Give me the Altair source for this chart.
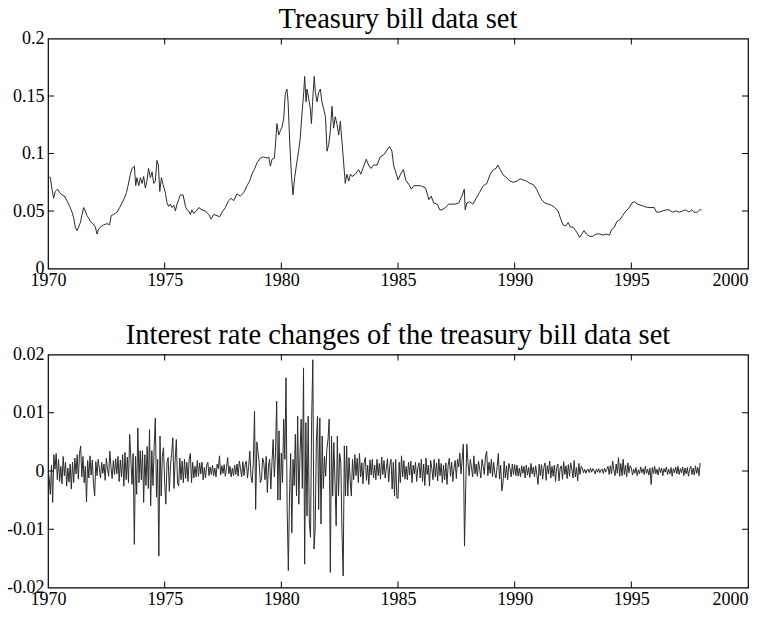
import altair as alt
import pandas as pd

# ---------------- data ----------------
# Treasury bill rate (top panel)
tb_year = [
    1970.00, 1970.10, 1970.17, 1970.24, 1970.31, 1970.41, 1970.50, 1970.60, 1970.70, 1970.81,
    1970.93, 1971.03, 1971.10, 1971.17, 1971.24, 1971.31, 1971.39, 1971.46, 1971.53, 1971.60,
    1971.67, 1971.74, 1971.81, 1971.93, 1972.03, 1972.10, 1972.17, 1972.24, 1972.39, 1972.53,
    1972.64, 1972.71, 1972.81, 1972.96, 1973.07, 1973.17, 1973.27, 1973.36, 1973.43, 1973.53,
    1973.60, 1973.70, 1973.76, 1973.81, 1973.89, 1973.96, 1974.03, 1974.10, 1974.17, 1974.24,
    1974.31, 1974.39, 1974.46, 1974.53, 1974.60, 1974.67, 1974.73, 1974.79, 1974.86, 1974.93,
    1975.03, 1975.10, 1975.17, 1975.24, 1975.31, 1975.39, 1975.46, 1975.53, 1975.60, 1975.67,
    1975.79, 1975.89, 1975.96, 1976.03, 1976.10, 1976.17, 1976.24, 1976.36, 1976.46, 1976.60,
    1976.74, 1976.89, 1976.99, 1977.10, 1977.24, 1977.36, 1977.46, 1977.60, 1977.74, 1977.84,
    1977.96, 1978.10, 1978.24, 1978.39, 1978.53, 1978.64, 1978.74, 1978.84, 1978.96, 1979.10,
    1979.24, 1979.39, 1979.46, 1979.53, 1979.60, 1979.70, 1979.74, 1979.81, 1979.89, 1979.96,
    1980.03, 1980.10, 1980.17, 1980.24, 1980.29, 1980.36, 1980.43, 1980.50, 1980.57, 1980.67,
    1980.74, 1980.81, 1980.89, 1980.96, 1981.00, 1981.06, 1981.10, 1981.17, 1981.24, 1981.29,
    1981.34, 1981.41, 1981.46, 1981.53, 1981.60, 1981.67, 1981.74, 1981.81, 1981.89, 1981.96,
    1982.03, 1982.10, 1982.17, 1982.24, 1982.31, 1982.39, 1982.46, 1982.53, 1982.60, 1982.74,
    1982.81, 1982.89, 1982.96, 1983.03, 1983.17, 1983.31, 1983.41, 1983.53, 1983.64, 1983.74,
    1983.84, 1983.96, 1984.10, 1984.24, 1984.39, 1984.53, 1984.64, 1984.74, 1984.81, 1984.93,
    1985.00, 1985.11, 1985.23, 1985.33, 1985.47, 1985.57, 1985.68, 1985.82, 1985.97, 1986.18,
    1986.32, 1986.42, 1986.53, 1986.68, 1986.79, 1986.89, 1987.03, 1987.17, 1987.32, 1987.46,
    1987.60, 1987.74, 1987.84, 1987.88, 1987.95, 1988.07, 1988.21, 1988.35, 1988.49, 1988.66,
    1988.81, 1988.95, 1989.09, 1989.20, 1989.28, 1989.38, 1989.52, 1989.66, 1989.80, 1989.94,
    1990.09, 1990.23, 1990.37, 1990.51, 1990.65, 1990.80, 1990.94, 1991.05, 1991.15, 1991.29,
    1991.43, 1991.58, 1991.72, 1991.86, 1991.96, 1992.07, 1992.19, 1992.29, 1992.39, 1992.50,
    1992.61, 1992.71, 1992.78, 1992.88, 1992.97, 1993.07, 1993.21, 1993.35, 1993.49, 1993.64,
    1993.78, 1993.92, 1994.06, 1994.16, 1994.28, 1994.38, 1994.49, 1994.63, 1994.77, 1994.91,
    1995.03, 1995.13, 1995.27, 1995.41, 1995.55, 1995.70, 1995.84, 1995.98, 1996.08, 1996.19,
    1996.34, 1996.48, 1996.62, 1996.76, 1996.90, 1997.05, 1997.19, 1997.33, 1997.47, 1997.59,
    1997.68, 1997.83, 1997.93, 1998.01,
]
tb_rate = [
    0.080, 0.079, 0.069, 0.061, 0.067, 0.069, 0.066, 0.064, 0.063, 0.059,
    0.054, 0.049, 0.044, 0.036, 0.033, 0.036, 0.040, 0.047, 0.053, 0.050,
    0.046, 0.044, 0.041, 0.039, 0.036, 0.030, 0.034, 0.036, 0.038, 0.039,
    0.038, 0.046, 0.047, 0.049, 0.053, 0.057, 0.061, 0.066, 0.072, 0.082,
    0.087, 0.089, 0.072, 0.079, 0.072, 0.079, 0.074, 0.080, 0.070, 0.076,
    0.087, 0.079, 0.084, 0.074, 0.076, 0.094, 0.090, 0.067, 0.079, 0.073,
    0.066, 0.057, 0.054, 0.056, 0.053, 0.055, 0.050, 0.056, 0.060, 0.064,
    0.064, 0.054, 0.051, 0.050, 0.047, 0.051, 0.048, 0.050, 0.053, 0.051,
    0.050, 0.047, 0.043, 0.047, 0.046, 0.045, 0.049, 0.053, 0.059, 0.061,
    0.059, 0.065, 0.063, 0.066, 0.072, 0.076, 0.082, 0.086, 0.092, 0.096,
    0.097, 0.096, 0.097, 0.089, 0.095, 0.096, 0.105, 0.126, 0.116, 0.120,
    0.123, 0.130, 0.152, 0.156, 0.145, 0.110, 0.082, 0.064, 0.079, 0.093,
    0.102, 0.113, 0.136, 0.153, 0.167, 0.145, 0.156, 0.148, 0.139, 0.126,
    0.145, 0.167, 0.153, 0.145, 0.153, 0.156, 0.145, 0.139, 0.132, 0.102,
    0.108, 0.119, 0.141, 0.122, 0.132, 0.125, 0.116, 0.128, 0.110, 0.074,
    0.082, 0.076, 0.082, 0.080, 0.082, 0.086, 0.082, 0.089, 0.095, 0.090,
    0.087, 0.090, 0.090, 0.097, 0.099, 0.103, 0.106, 0.102, 0.090, 0.082,
    0.077, 0.082, 0.086, 0.077, 0.073, 0.069, 0.072, 0.072, 0.072, 0.070,
    0.060, 0.063, 0.057, 0.056, 0.051, 0.051, 0.053, 0.056, 0.056, 0.056,
    0.057, 0.063, 0.069, 0.051, 0.057, 0.058, 0.056, 0.061, 0.066, 0.072,
    0.074, 0.082, 0.086, 0.087, 0.090, 0.086, 0.081, 0.079, 0.076, 0.075,
    0.076, 0.078, 0.077, 0.076, 0.074, 0.073, 0.069, 0.064, 0.060, 0.057,
    0.056, 0.055, 0.053, 0.050, 0.044, 0.038, 0.037, 0.040, 0.036, 0.036,
    0.033, 0.030, 0.027, 0.030, 0.033, 0.030, 0.028, 0.028, 0.030, 0.030,
    0.029, 0.030, 0.029, 0.034, 0.036, 0.041, 0.042, 0.046, 0.050, 0.053,
    0.057, 0.058, 0.056, 0.055, 0.054, 0.053, 0.053, 0.053, 0.049, 0.049,
    0.050, 0.051, 0.051, 0.049, 0.050, 0.049, 0.050, 0.051, 0.049, 0.051,
    0.049, 0.049, 0.051, 0.051,
]

# Interest rate changes (bottom panel), in units of 0.001, 20 readings per year from 1970.0
chg_1970s = [
    0.5, -1.2, -4.0, 1.0, -5.4, 2.8, 0.3, 3.0, -1.5, 2.0, -1.8, 0.8, -2.2, 2.5, -0.8, 1.5, -2.6, 0.5, -1.9, 1.2,
    -3.1, 1.5, -2.0, 2.2, -0.5, 2.8, -1.4, 3.0, 4.3, -1.0, 2.5, -2.0, 0.8, -5.3, 1.8, -1.2, 2.6, -0.7, 1.9, -2.3,
    -4.3, 1.6, -0.8, 2.0, 0.5, -1.2, 1.5, -0.4, 1.2, -1.6, 2.2, 0.3, -0.9, 3.4, 0.6, -1.3, 1.8, -0.6, 2.1, -0.5,
    2.5, -1.8, 1.9, -1.0, 2.8, -2.6, 3.2, -1.5, 2.4, -2.0, 6.3, 2.2, -2.3, 3.0, -12.6, 2.5, -4.0, 7.4, -2.0, 3.5,
    -1.5, 3.5, -5.4, 2.8, -2.5, 4.2, -3.0, 7.1, -6.0, 3.5, -2.5, 4.0, 9.1, -4.5, 2.0, -14.6, 6.0, -4.3, 2.5, 4.0,
    -2.0, -5.7, 1.5, 2.3, -3.5, 1.0, 3.0, 5.7, -3.0, 1.8, 5.4, -2.0, -2.6, 2.2, -1.5, 1.7, -2.0, 2.0, -1.3, 1.5,
    -1.8, 2.0, 3.0, -2.0, 1.5, -1.2, 0.8, -1.0, 1.8, -0.9, 1.4, -0.5, 1.5, -1.5, 0.6, -1.2, 1.0, 1.5, -0.8, 0.7,
    -0.6, 1.0, -0.8, 0.5, -1.0, 1.2, 0.4, 2.6, -0.7, 0.9, -0.4, 1.1, -0.9, 0.6, 2.3, -0.5, 0.8, -1.0, 0.5, -0.8,
    1.0, -0.6, 1.2, -0.9, 1.7, 0.4, -1.0, 1.6, -0.8, 1.1, 1.7, -1.2, 0.8, 3.4, -1.0, -2.0, 1.5, 10.3, -6.6, 5.0,
    3.2, 1.5, -2.0, -1.4, 2.2, 1.4, -1.5, 2.5, -3.7, 1.0, 2.0, -3.1, 1.6, 5.4, -1.0, 3.2, 12.0, -5.0, 6.9, -5.0,
]
chg_1980s = [
    3.1, -2.0, 8.9, 2.0, 16.0, -6.6, -17.1, -4.3, 3.0, -10.6, 2.0, -2.5, 6.3, -4.3, 9.4, -5.7, 3.0, 8.9, -3.0, 17.7,
    -16.0, 8.3, -7.7, 9.4, -8.9, -11.4, 8.9, 19.1, -13.4, -10.0, 5.0, 9.4, -6.6, 9.1, -9.1, 6.0, -3.0, 2.5, -0.9, 3.7,
    5.4, 8.9, -17.4, 6.0, -4.3, 4.9, -2.0, -9.4, 6.0, -4.3, 3.0, 1.5, -10.6, -18.0, 4.3, -4.3, 4.3, -4.3, 2.3, -1.5,
    -4.3, 2.0, -1.5, 2.8, -0.8, 2.2, -2.0, 3.0, -1.0, 1.4, -2.2, 1.5, 2.3, -1.6, 1.0, -2.3, 1.9, -0.7, 2.0, -1.2,
    1.0, -1.5, 2.0, -0.8, 1.3, -1.4, 2.4, -0.6, 1.8, -1.2, 0.5, 2.1, -1.9, 1.0, 2.0, -3.1, 1.5, -4.3, 2.0, -4.6,
    -4.7, 1.5, -2.0, 2.6, -1.0, 1.8, -1.4, 0.8, -1.5, 1.5, -0.7, 1.7, -2.0, 1.0, -0.5, 1.5, -1.8, 0.6, 1.4, -1.2,
    2.0, -1.8, 1.2, -2.5, 2.2, -0.6, 1.0, -2.6, 1.8, 0.4, -1.5, 2.0, -1.0, 1.4, -1.7, 2.1, -0.8, 1.3, -2.0, 1.0,
    -1.5, 1.4, -2.3, 1.0, 2.2, -0.9, 1.5, -1.8, 0.6, 1.8, -1.3, 2.0, 0.7, 3.1, -0.5, 2.0, 4.6, -12.9, -3.1, 4.6,
    1.4, -0.8, 2.0, 0.5, -1.0, 2.6, -0.5, 1.2, -0.9, 1.7, 0.3, -1.2, 2.0, 0.8, -0.6, 2.6, 3.4, -0.8, 1.5, -0.4,
    2.0, -1.0, 1.5, -0.5, -1.2, 0.8, 3.0, -1.4, 1.0, -3.4, -2.0, 1.7, -1.2, 0.9, -1.5, 1.3, 0.4, -1.0, 1.2, -0.6,
]
chg_1990s = [
    1.1, -0.8, 1.0, -0.9, 0.5, -1.0, 0.9, -0.4, 0.8, -1.2, 1.0, -0.7, 0.6, -1.1, 1.3, -0.5, 0.7, -1.0, 0.9, -0.6,
    -2.3, 1.2, -0.8, 1.1, -1.4, 0.6, 1.4, -1.6, 0.9, -0.5, 1.7, -1.2, 0.8, -0.9, 1.0, -1.8, 0.6, 1.2, -1.7, 0.5,
    0.9, -1.4, 1.6, -0.6, 0.9, -1.3, 1.1, -0.9, 1.4, 0.3, -1.2, 1.8, -1.0, 0.6, -1.7, 1.3, -0.6, 0.8, 0.5, -0.3,
    0.3, -0.4, 0.2, 0.3, -0.3, 0.5, -0.2, 0.4, 0.1, -0.5, 0.3, -0.2, 0.4, -0.3, 0.2, 0.3, -0.4, 0.5, -0.2, 0.3,
    0.8, -0.6, 0.9, -0.5, 1.7, 0.2, -0.8, 1.2, -0.4, 2.3, -0.9, 1.3, -0.8, 2.0, -0.6, 1.0, -1.0, 1.4, -0.3, 0.9,
    0.5, -0.7, 0.3, -0.4, 0.6, -0.8, 0.2, -0.5, 0.7, -0.3, 0.4, -0.6, 0.8, -0.4, 0.3, -0.7, 0.5, -2.3, 0.6, -0.4,
    0.8, -0.5, 0.3, -0.7, 0.6, -0.3, 0.5, -0.8, 0.4, -0.2, 0.7, -0.6, 0.3, -0.5, 0.6, -0.9, 0.4, -0.3, 0.7, -0.5,
    0.8, -0.6, 0.4, -0.3, 0.7, -0.8, 0.5, -0.5, 0.6, -0.9, 0.3, 0.8, -0.6, 0.5, -0.7, 0.9, -0.4, 0.6, -0.8, 1.4,
]

x_labels = [1970, 1975, 1980, 1985, 1990, 1995, 2000]
x_inner_ticks = [1975, 1980, 1985, 1990, 1995]
top_labels = [0, 0.05, 0.1, 0.15, 0.2]
top_inner_ticks = [0.05, 0.1, 0.15]
bot_labels = [-0.02, -0.01, 0, 0.01, 0.02]
bot_inner_ticks = [-0.01, 0, 0.01]

top_title = "Treasury bill data set"
bot_title = "Interest rate changes of the treasury bill data set"

# ---------------- tables ----------------
top_df = pd.DataFrame({"year": tb_year, "value": tb_rate})
chg_all = chg_1970s + chg_1980s + chg_1990s
bot_df = pd.DataFrame({
    "year": [1970 + i * 0.05 for i in range(len(chg_all))],
    "value": [v / 1000 for v in chg_all],
})

FONT = "Liberation Serif"
W = 700
TICK = 6
LABEL_EXPR = ("datum.value < 0 ? '-' + format(-datum.value, '~g') "
              ": format(datum.value, '~g')")


def panel(df, domain, ylabels, yticks, title, H):
    x_enc = alt.X(
        "year:Q",
        scale=alt.Scale(domain=[1970, 2000], nice=False, zero=False),
        axis=alt.Axis(values=x_labels, format="d", title=None, ticks=False,
                      domain=False, grid=False, labelFont=FONT, labelFontSize=18,
                      labelColor="black", labelPadding=3, labelFlush=False,
                      labelOverlap=False,
                      labelAlign={"condition": {"test": "datum.value == 2000",
                                                "value": "right"},
                                  "value": "center"}),
    )
    y_enc = alt.Y(
        "value:Q",
        scale=alt.Scale(domain=domain, nice=False, zero=False),
        axis=alt.Axis(values=ylabels, labelExpr=LABEL_EXPR, title=None, ticks=False,
                      domain=False, grid=False, labelFont=FONT, labelFontSize=18,
                      labelColor="black", labelPadding=4, minExtent=40,
                      maxExtent=40, labelOverlap=False),
    )
    line = alt.Chart(df).mark_line(color="#2b2b2b", strokeWidth=1, clip=True).encode(
        x=x_enc, y=y_enc)
    xt = pd.DataFrame({"year": x_inner_ticks})
    yt = pd.DataFrame({"value": yticks})
    tick_style = dict(color="black", strokeWidth=1)
    xb = alt.Chart(xt).mark_rule(**tick_style).encode(
        x=x_enc, y=alt.value(H), y2=alt.value(H - TICK))
    xtop = alt.Chart(xt).mark_rule(**tick_style).encode(
        x=x_enc, y=alt.value(0), y2=alt.value(TICK))
    yl = alt.Chart(yt).mark_rule(**tick_style).encode(
        y=y_enc, x=alt.value(0), x2=alt.value(TICK))
    yr = alt.Chart(yt).mark_rule(**tick_style).encode(
        y=y_enc, x=alt.value(W), x2=alt.value(W - TICK))
    ttl = alt.Chart(pd.DataFrame({"t": [title]})).mark_text(
        font=FONT, fontSize=28.5, color="black", align="center",
        baseline="alphabetic").encode(
        text="t:N", x=alt.value(W / 2), y=alt.value(-11))
    return alt.layer(line, xb, xtop, yl, yr, ttl).properties(width=W, height=H)


top = panel(top_df, [0, 0.2], top_labels, top_inner_ticks, top_title, 230)
bot = panel(bot_df, [-0.02, 0.02], bot_labels, bot_inner_ticks, bot_title, 233)

chart = alt.vconcat(top, bot, spacing=29).properties(
    padding={"left": -3, "top": -4.5, "right": 0, "bottom": 0},
    background="white",
).configure_view(stroke="black", strokeWidth=1.2)

chart.save("out.html", embed_options={"renderer": "svg", "actions": False})
